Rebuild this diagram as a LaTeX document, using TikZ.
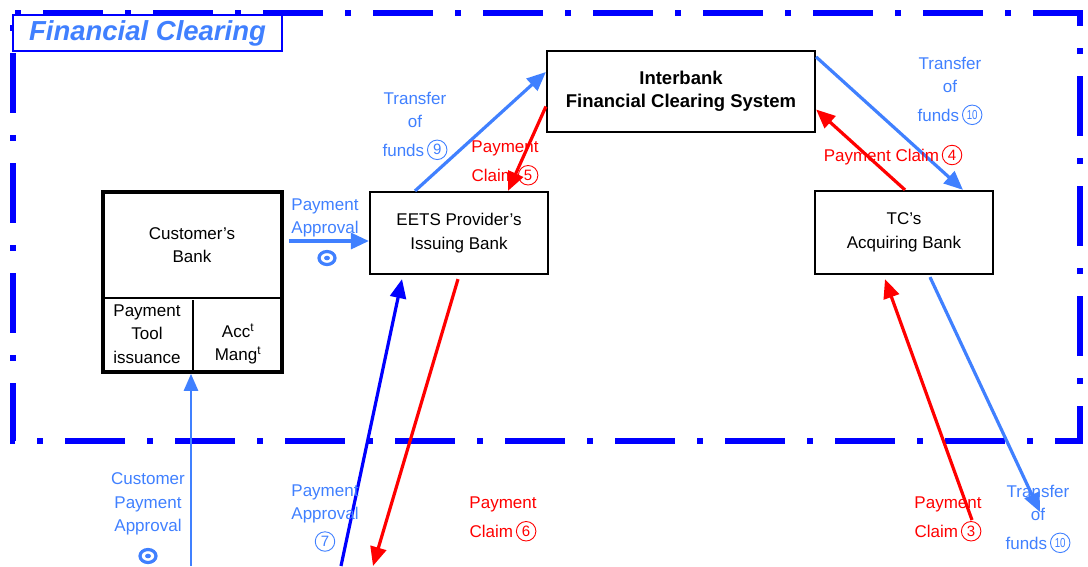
\documentclass[tikz,border=0pt]{standalone}
\usepackage{fontspec}
\setmainfont{Liberation Sans}
\usetikzlibrary{arrows.meta,calc,shapes.geometric}
\definecolor{lblue}{RGB}{64,128,255}
\definecolor{dblue}{RGB}{0,0,255}
\definecolor{cred}{RGB}{255,0,0}
% circled step number, drawn in the colour of the surrounding text
\newcommand{\cn}[1]{\tikz[baseline={([yshift=-6.5pt]num.center)}]
  \node[circle, draw, line width=0.9pt, inner sep=0pt, minimum size=19.5pt,
        font=\fontsize{15}{15}\selectfont] (num) {#1};}
\newcommand{\cnn}[1]{\tikz[baseline={([yshift=-6.5pt]num.center)}]
  \node[circle, draw, line width=0.9pt, inner sep=0pt, minimum size=19.5pt,
        font=\fontsize{13}{13}\selectfont\addfontfeatures{FakeStretch=0.75}] (num) {#1};}
\begin{document}
\begin{tikzpicture}[x=1pt,y=-1pt,
  txt/.style={font=\fontsize{17}{23.5}\selectfont, align=center, inner sep=0pt},
  bank/.style={draw=black, line width=2.2pt, fill=white, txt},
  flow/.style={line width=3.2pt, -{Triangle[length=19pt,width=16pt]}},
  bluef/.style={flow, draw=lblue, fill=lblue},
  darkf/.style={flow, draw=dblue, fill=dblue},
  redf/.style={flow, draw=cred, fill=cred},
  bluel/.style={txt, text=lblue},
  redl/.style={txt, text=cred},
  eye/.style={ellipse, draw=lblue, line width=3.2pt, inner sep=0pt, minimum width=16pt, minimum height=13pt}
]
\useasboundingbox (0,0) rectangle (1088,566);

% dash-dot frame of the clearing domain
\draw[dblue, line width=6.5pt, dash pattern=on 60pt off 22pt on 6pt off 22pt, dash phase=70pt]
  (13,13) rectangle (1080,441);
\node[draw=dblue, line width=2pt, fill=white, minimum width=269pt, minimum height=36pt,
      inner sep=0pt, font=\fontsize{27.5}{27.5}\selectfont\bfseries\itshape, text=lblue]
  (title) at (147.5,33) {Financial Clearing};

% banks
\node[bank, minimum width=268pt, minimum height=81pt, font=\fontsize{18.5}{23.5}\selectfont\bfseries]
  (ifcs) at (681,91.5) {Interbank\\Financial Clearing System};
\node[bank, minimum width=178pt, minimum height=82pt] (eets) at (459,233) {EETS Provider's\\Issuing Bank};
\node[bank, minimum width=178pt, minimum height=83pt] (tc) at (904,232.5) {TC's\\Acquiring Bank};

% customer's bank with its two service cells
\node[draw=black, line width=3.6pt, minimum width=179pt, minimum height=180pt, inner sep=0pt] (cb) at (192.5,282) {};
\draw[line width=1.4pt] ($(cb.west)+(0,16)$) -- ($(cb.east)+(0,16)$);
\draw[line width=1.4pt] ($(cb.south)+(0.5,0)$) -- ($(cb.south)+(0.5,-74)$);
\node[txt] (cbname) at (192,245) {Customer's\\Bank};
\node[txt] (tool) at (147,334) {Payment\\Tool\\issuance};
\node[txt] (acct) at (238,344) {Acc\textsuperscript{t}\\Mang\textsuperscript{t}};

% free ends below the frame
\coordinate (custIn) at (191,566);
\coordinate (apprIn) at (341,566);
\coordinate (claimOut) at (373,566);
\coordinate (claimIn) at (972,520);
\coordinate (fundsOut) at (1040,512);

% flows
\draw[bluef, line width=2.6pt, -{Triangle[length=17pt,width=14pt]}] (custIn) -- ($(cb.south)+(-1.5,0)$);
\draw[bluef, -{Triangle[length=18pt,width=16pt]}] ($(cb.east)+(5,-41)$) -- ($(eets.west)+(0,8)$);
\draw[bluef] ($(eets.north)+(-44,0)$) -- ($(ifcs.west)+(0,-19.5)$);
\draw[redf] ($(ifcs.west)+(0,15)$) -- ($(eets.north)+(49,0)$);
\draw[bluef] ($(ifcs.north east)+(0,7)$) -- ($(tc.north)+(59,0)$);
\draw[redf] ($(tc.north)+(1,0)$) -- ($(ifcs.east)+(0,18)$);
\draw[darkf] (apprIn) -- ($(eets.south)+(-57,4)$);
\draw[redf] ($(eets.south)+(-1,4)$) -- (claimOut);
\draw[redf] (claimIn) -- ($(tc.south)+(-19,4)$);
\draw[bluef] ($(tc.south)+(26,2)$) -- (fundsOut);

% flow labels
\node[bluel] (lapp) at (325,218) {Payment\\Approval};
\node[eye] (eyeA) at (327,258) {};
\fill[lblue] (eyeA) ellipse (3pt and 2.3pt);
\node[bluel] (l9) at (415,126) {Transfer\\of\\[5pt]funds\,\cn{9}};
\node[redl] (l5) at (505,163) {Payment\\[6pt]Claim\,\cn{5}};
\node[bluel] (l10a) at (950,91) {Transfer\\of\\[5pt]funds\,\cnn{10}};
\node[redl] (l4) at (893,155) {Payment Claim\,\cn{4}};
\node[bluel] (lcust) at (148,504) {Customer\\Payment\\Approval};
\node[eye] (eyeB) at (148,556) {};
\fill[lblue] (eyeB) ellipse (3pt and 2.3pt);
\node[bluel] (l7) at (325,518) {Payment\\Approval\\[5pt]\cn{7}};
\node[redl] (l6) at (503,519) {Payment\\[6pt]Claim\,\cn{6}};
\node[redl] (l3) at (948,519) {Payment\\[6pt]Claim\,\cn{3}};
\node[bluel] (l10b) at (1038,519) {Transfer\\of\\[5pt]funds\,\cnn{10}};
\end{tikzpicture}
\end{document}
